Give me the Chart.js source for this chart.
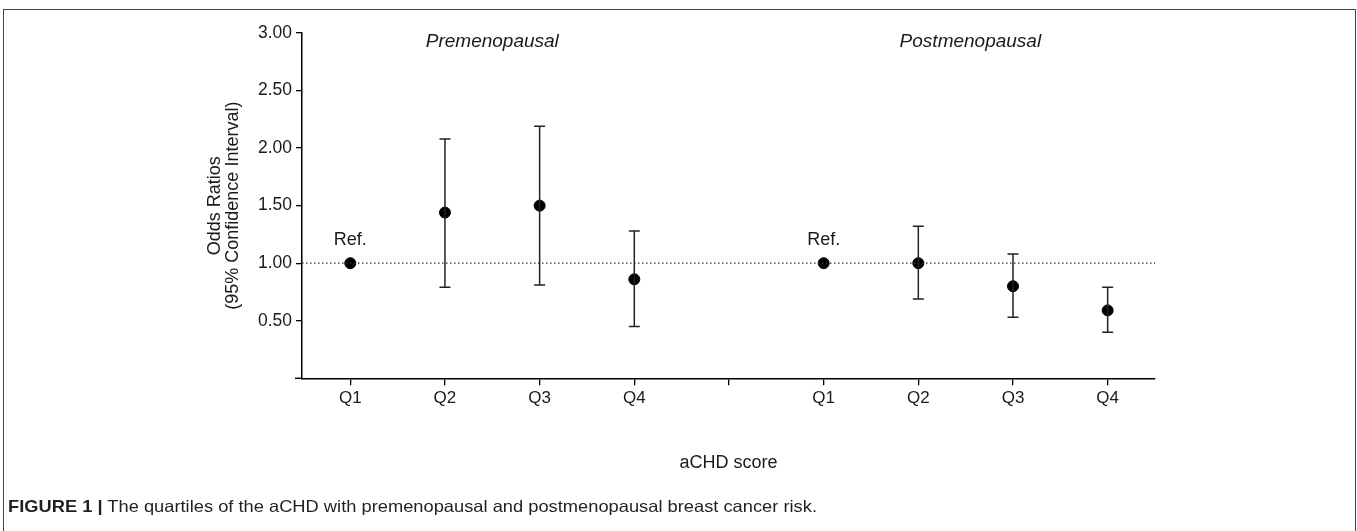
<!DOCTYPE html>
<html>
<head>
<meta charset="utf-8">
<script src="https://cdn.jsdelivr.net/npm/chart.js@4.4.0/dist/chart.umd.min.js"></script>
<style>
  html, body { margin: 0; padding: 0; background: #fff; overflow: hidden; }
  #wrap { position: relative; width: 1357px; height: 531px; }
  #frame { position: absolute; left: 3px; top: 9px; width: 1351px; height: 560px; border: 1px solid #444; border-bottom: none; }
  #caption { position: absolute; left: 8px; top: 497px; font: 16.5px "Liberation Sans", Arial, sans-serif; color: #231f20; white-space: nowrap; transform-origin: 0 0; }
  canvas { position: absolute; left: 0; top: 0; }
</style>
</head>
<body>
<div id="wrap">
  <div id="frame"></div>
  <canvas id="chart" width="1357" height="531"></canvas>
  <div id="caption"><b>FIGURE 1 |</b> The quartiles of the aCHD with premenopausal and postmenopausal breast cancer risk.</div>
</div>
<script>
// data
const groups = ['Premenopausal', 'Postmenopausal'];
const quartiles = ['Q1', 'Q2', 'Q3', 'Q4'];
const xPositions = [1, 2, 3, 4, 5, 6, 7, 8, 9];
const xTickLabels = ['Q1', 'Q2', 'Q3', 'Q4', '', 'Q1', 'Q2', 'Q3', 'Q4'];
const yTicks = [0.5, 1.0, 1.5, 2.0, 2.5, 3.0];

const preOR = [1.00, 1.44, 1.50, 0.86];
const preLower = [null, 0.79, 0.81, 0.45];
const preUpper = [null, 2.08, 2.19, 1.28];

const postOR = [1.00, 1.00, 0.80, 0.59];
const postLower = [null, 0.69, 0.53, 0.40];
const postUpper = [null, 1.32, 1.08, 0.79];

const refValue = 1.0;
const refLabel = 'Ref.';

const FONT = '"Liberation Sans", Arial, sans-serif';
const INK = '#1a1a1a';
const xMin = 0.49, xMax = 9.5;

const preX = quartiles.map((q, i) => xPositions[i]);
const postX = quartiles.map((q, i) => xPositions[i + 5]);

function toPoints(xs, ys, lo, hi) {
    return xs.map((x, i) => ({ x: x, y: ys[i], lo: lo[i], hi: hi[i] }));
}

// caption is wider in the figure than the plain font gives
const cap = document.getElementById('caption');
cap.style.transform = 'scaleX(' + (809 / cap.getBoundingClientRect().width) + ')';

const errorBars = {
    id: 'errorBars',
    afterDatasetsDraw(chart) {
        const { ctx, scales: { x, y } } = chart;
        ctx.save();
        ctx.strokeStyle = '#222';
        ctx.lineWidth = 1.5;
        chart.data.datasets.forEach(ds => {
            if (ds.type === 'line') return;
            ds.data.forEach(p => {
                if (p.lo == null) return;
                const px = x.getPixelForValue(p.x);
                const yl = y.getPixelForValue(p.lo);
                const yh = y.getPixelForValue(p.hi);
                ctx.beginPath();
                ctx.moveTo(px, yl); ctx.lineTo(px, yh);
                ctx.moveTo(px - 5.5, yl); ctx.lineTo(px + 5.5, yl);
                ctx.moveTo(px - 5.5, yh); ctx.lineTo(px + 5.5, yh);
                ctx.stroke();
            });
        });
        ctx.restore();
    }
};

const labels = {
    id: 'labels',
    afterDraw(chart) {
        const { ctx, chartArea, scales: { x, y } } = chart;
        ctx.save();
        // x axis runs a little past the y axis, as in the figure
        ctx.strokeStyle = '#000';
        ctx.lineWidth = 1.5;
        ctx.beginPath();
        ctx.moveTo(chartArea.left - 7, chartArea.bottom);
        ctx.lineTo(chartArea.left, chartArea.bottom);
        ctx.stroke();

        ctx.fillStyle = INK;
        ctx.textAlign = 'center';
        ctx.textBaseline = 'middle';
        ctx.font = 'italic 19px ' + FONT;
        ctx.fillText(groups[0], x.getPixelForValue(2.5), y.getPixelForValue(2.92));
        ctx.fillText(groups[1], x.getPixelForValue(7.55), y.getPixelForValue(2.92));
        ctx.font = '18px ' + FONT;
        ctx.fillText(refLabel, x.getPixelForValue(preX[0]), y.getPixelForValue(refValue + 0.2));
        ctx.fillText(refLabel, x.getPixelForValue(postX[0]), y.getPixelForValue(refValue + 0.2));
        ctx.restore();
    }
};

new Chart(document.getElementById('chart'), {
    type: 'scatter',
    data: {
        datasets: [
            {
                type: 'line',
                label: 'reference',
                data: [{ x: xMin, y: refValue }, { x: xMax, y: refValue }],
                borderColor: '#333',
                borderWidth: 1.3,
                borderDash: [1.5, 2.5],
                pointRadius: 0,
                fill: false
            },
            {
                label: groups[0],
                data: toPoints(preX, preOR, preLower, preUpper),
                backgroundColor: '#000',
                borderColor: '#000',
                pointRadius: 5.5
            },
            {
                label: groups[1],
                data: toPoints(postX, postOR, postLower, postUpper),
                backgroundColor: '#000',
                borderColor: '#000',
                pointRadius: 5.5
            }
        ]
    },
    options: {
        responsive: false,
        animation: false,
        layout: { padding: { left: 200, right: 202, top: 33, bottom: 0 } },
        plugins: { legend: { display: false }, tooltip: { enabled: false } },
        scales: {
            x: {
                type: 'linear',
                min: xMin,
                max: xMax,
                afterBuildTicks: s => { s.ticks = xPositions.map(v => ({ value: v })); },
                afterFit: s => { s.height = 152.7; },
                ticks: {
                    autoSkip: false,
                    maxRotation: 0,
                    padding: 3,
                    color: INK,
                    font: { family: FONT, size: 17 },
                    callback: (v, i) => xTickLabels[i]
                },
                grid: { drawOnChartArea: false, drawTicks: true, tickLength: 7, color: '#000', lineWidth: 1.3 },
                border: { color: '#000', width: 1.5 },
                title: {
                    display: true,
                    text: 'aCHD score',
                    color: INK,
                    font: { family: FONT, size: 18, lineHeight: 1.05 },
                    padding: { top: 0, bottom: 59 }
                }
            },
            y: {
                min: 0,
                max: 3,
                afterBuildTicks: s => { s.ticks = yTicks.map(v => ({ value: v })); },
                afterFit: s => { s.width = 102; },
                ticks: {
                    padding: 4,
                    color: INK,
                    font: { family: FONT, size: 17.5 },
                    callback: v => v.toFixed(2)
                },
                grid: { drawOnChartArea: false, drawTicks: true, tickLength: 6, color: '#000', lineWidth: 1.3 },
                border: { color: '#000', width: 1.5 },
                title: {
                    display: true,
                    text: ['Odds Ratios', '(95% Confidence Interval)'],
                    color: INK,
                    font: { family: FONT, size: 18, lineHeight: 1.0 },
                    padding: { top: 6, bottom: 0 }
                }
            }
        }
    },
    plugins: [errorBars, labels]
});
</script>
</body>
</html>
